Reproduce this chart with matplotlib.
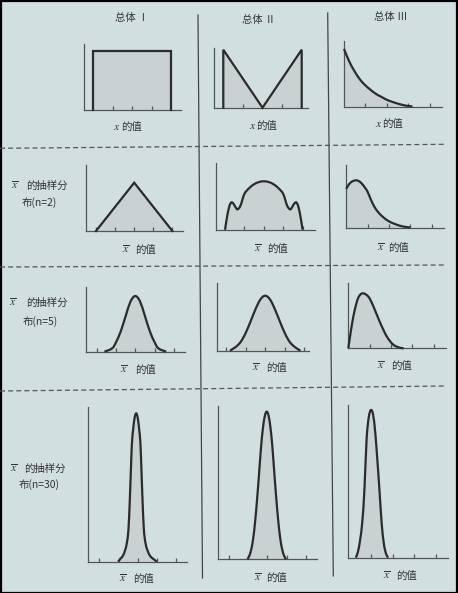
import numpy as np
import matplotlib
matplotlib.use("Agg")
import matplotlib.pyplot as plt
from matplotlib.path import Path
from matplotlib.patches import PathPatch, Rectangle
from matplotlib.lines import Line2D

plt.rcParams['font.family'] = ['Noto Sans CJK SC', 'DejaVu Sans']
plt.rcParams['mathtext.fontset'] = 'stix'

W, H = 458, 593
BG = '#d2dfe1'
FILL = '#c9d1d2'
INK = '#2b2b2b'
AXC = '#555555'
TXT = '#333333'

headers = ['总体 Ⅰ', '总体 Ⅱ', '总体 Ⅲ']
row_lines = ['布(n=2)', '布(n=5)', '布(n=30)']

# shapes: x in tick units, y relative to the peak
uni_x = [0, 0, 4, 4]
uni_y = [0, 1, 1, 0]
vee_x = [0, 0, 2, 4, 4]
vee_y = [0, 1, 0, 1, 0]
exp_x = [0, 0.25, 0.5, 0.75, 1.0, 1.25, 1.5, 1.75, 2.0, 2.25, 2.5, 2.75, 3.0, 3.2]
exp_y = [1.0, 0.78, 0.61, 0.47, 0.37, 0.29, 0.22, 0.17, 0.12, 0.085, 0.055, 0.03, 0.012, 0.005]

tri_x = [0, 2, 4]
tri_y = [0, 1, 0]
tri3_x = [0, 0.1, 0.2, 0.28, 0.35, 0.45, 0.55, 0.65, 0.8, 1.0, 1.25, 1.5, 1.75, 2.0,
          2.25, 2.5, 2.75, 3.0, 3.2, 3.35, 3.45, 3.55, 3.65, 3.72, 3.8, 3.9, 4.0]
tri3_y = [0, 0.25, 0.45, 0.54, 0.566, 0.53, 0.46, 0.42, 0.5, 0.74, 0.86, 0.94, 0.985, 1.0,
          0.985, 0.94, 0.86, 0.74, 0.5, 0.42, 0.46, 0.53, 0.566, 0.54, 0.45, 0.25, 0]
gam2_x = [0, 0.1, 0.25, 0.45, 0.6, 0.75, 0.9, 1.0, 1.15, 1.3, 1.5, 1.75, 2.0, 2.25, 2.5, 2.75, 3.0]
gam2_y = [0.82, 0.9, 0.97, 1.0, 0.98, 0.92, 0.83, 0.76, 0.6, 0.46, 0.33, 0.22, 0.14, 0.09, 0.05, 0.025, 0.01]

n5a_x = [0.4, 0.8, 1.0, 1.25, 1.5, 1.75, 2.0, 2.25, 2.5, 2.75, 3.0, 3.2, 3.6]
n5a_y = [0, 0.06, 0.17, 0.37, 0.64, 0.9, 1.0, 0.9, 0.64, 0.37, 0.17, 0.06, 0]
n5b_x = [0.2, 0.5, 0.75, 1.0, 1.25, 1.5, 1.75, 2.0, 2.25, 2.5, 2.75, 3.0, 3.25, 3.5, 3.8]
n5b_y = [0, 0.07, 0.16, 0.32, 0.53, 0.75, 0.93, 1.0, 0.93, 0.75, 0.53, 0.32, 0.16, 0.07, 0]
n5c_x = [0, 0.16, 0.31, 0.47, 0.67, 0.94, 1.17, 1.49, 1.8, 2.1, 2.4, 2.6]
n5c_y = [0, 0.41, 0.71, 0.92, 1.0, 0.94, 0.77, 0.47, 0.22, 0.07, 0.013, 0]

n30a_x = [0.98, 1.10, 1.23, 1.35, 1.44, 1.52, 1.59, 1.64, 1.70, 1.77, 1.84, 1.92,
          2.00, 2.07, 2.14, 2.20, 2.25, 2.32, 2.40, 2.50, 2.64, 2.80, 3.0]
n30a_y = [0, 0.02, 0.04, 0.08, 0.13, 0.22, 0.42, 0.6, 0.8, 0.9, 0.97, 1.0,
          0.97, 0.9, 0.8, 0.6, 0.42, 0.22, 0.13, 0.08, 0.04, 0.02, 0]
n30b_x = [0.97, 1.07, 1.17, 1.27, 1.37, 1.47, 1.57, 1.67, 1.77, 1.87, 1.97,
          2.07, 2.17, 2.27, 2.37, 2.47, 2.57, 2.67, 2.77, 2.87, 2.97]
n30b_y = [0, 0.024, 0.068, 0.142, 0.257, 0.405, 0.574, 0.75, 0.885, 0.97, 1.0,
          0.97, 0.885, 0.75, 0.574, 0.405, 0.257, 0.142, 0.068, 0.024, 0]
n30c_x = [0.3, 0.4, 0.5, 0.6, 0.7, 0.8, 0.9, 1.0, 1.1, 1.2, 1.3, 1.4, 1.5, 1.6, 1.7, 1.8]
n30c_y = [0, 0.04, 0.12, 0.24, 0.46, 0.8, 0.95, 1.0, 0.97, 0.85, 0.66, 0.45, 0.23, 0.095, 0.027, 0]

# panel boxes in pixels: left, top, right, bottom; x0 pixel, px per unit, px for peak
panels = [
    dict(box=(84, 44, 181, 110), x0=93.3, unit=19.4, peak=59, ticks=[1, 2, 3], xs=uni_x, ys=uni_y, smooth=False),
    dict(box=(214, 48, 308, 107.7), x0=223.3, unit=19.6, peak=58, ticks=[1, 3], xs=vee_x, ys=vee_y, smooth=False),
    dict(box=(344, 41, 442, 106.7), x0=344, unit=21.4, peak=57.7, ticks=[1, 2, 3, 4], xs=exp_x, ys=exp_y, smooth=True),
    dict(box=(86, 165, 183, 231), x0=96, unit=19.1, peak=48.3, ticks=[0, 1, 2, 3, 4], xs=tri_x, ys=tri_y, smooth=False),
    dict(box=(216, 163, 315, 229.7), x0=225, unit=19.4, peak=48.4, ticks=[0, 1, 2, 3, 4], xs=tri3_x, ys=tri3_y, smooth=True),
    dict(box=(346.3, 164.7, 444, 228), x0=346.3, unit=21.3, peak=47.7, ticks=[1, 2, 3, 4], xs=gam2_x, ys=gam2_y, smooth=True),
    dict(box=(86, 286.7, 185, 351.7), x0=96.7, unit=19.3, peak=55.7, ticks=[0, 1, 2, 3, 4], xs=n5a_x, ys=n5a_y, smooth=True),
    dict(box=(216.7, 283, 309, 350.7), x0=226, unit=19.6, peak=55, ticks=[0, 1, 2, 3, 4], xs=n5b_x, ys=n5b_y, smooth=True),
    dict(box=(348.3, 282.7, 446, 348.3), x0=348.3, unit=21.3, peak=55, ticks=[1, 2, 3, 4], xs=n5c_x, ys=n5c_y, smooth=True),
    dict(box=(88.3, 407.3, 186.7, 561.7), x0=99.3, unit=19.2, peak=148.4, ticks=[0, 1, 2, 3, 4], xs=n30a_x, ys=n30a_y, smooth=True),
    dict(box=(218.3, 406, 316.7, 559.3), x0=228.7, unit=19.3, peak=147.7, ticks=[0, 1, 2, 3, 4], xs=n30b_x, ys=n30b_y, smooth=True),
    dict(box=(348.3, 405, 448, 557.7), x0=349.3, unit=21.6, peak=147.7, ticks=[1, 2, 3, 4], xs=n30c_x, ys=n30c_y, smooth=True),
]


def smooth_path(xs, ys, close):
    pts = np.column_stack([xs, ys]).astype(float)
    n = len(pts)
    verts = [pts[0]]
    codes = [Path.MOVETO]
    for i in range(n - 1):
        p0 = pts[i - 1] if i > 0 else pts[i]
        p1, p2 = pts[i], pts[i + 1]
        p3 = pts[i + 2] if i + 2 < n else pts[i + 1]
        verts += [p1 + (p2 - p0) / 6, p2 - (p3 - p1) / 6, p2]
        codes += [Path.CURVE4] * 3
    if close:
        verts += [(xs[-1], 0), (xs[0], 0), (xs[0], 0)]
        codes += [Path.LINETO, Path.LINETO, Path.CLOSEPOLY]
    return Path(verts, codes)


fig = plt.figure(figsize=(W / 100, H / 100), dpi=100)
fig.patch.set_facecolor(BG)

for p in panels:
    l, t, r, b = p['box']
    ax = fig.add_axes([l / W, 1 - b / H, (r - l) / W, (b - t) / H])
    ax.patch.set_visible(False)
    ax.set_xlim((l - p['x0']) / p['unit'], (r - p['x0']) / p['unit'])
    ax.set_ylim(0, (b - t) / p['peak'])
    for s in ['top', 'right']:
        ax.spines[s].set_visible(False)
    for s in ['left', 'bottom']:
        ax.spines[s].set_color(AXC)
        ax.spines[s].set_linewidth(0.9)
    ax.set_yticks([])
    ax.set_xticks(p['ticks'])
    ax.tick_params(axis='x', direction='in', length=3, width=0.9, colors=AXC, labelbottom=False)
    if p['smooth']:
        ax.add_patch(PathPatch(smooth_path(p['xs'], p['ys'], True), facecolor=FILL, edgecolor='none', zorder=1))
        ax.add_patch(PathPatch(smooth_path(p['xs'], p['ys'], False), facecolor='none', edgecolor=INK,
                               lw=1.6, clip_on=False, zorder=3, joinstyle='round'))
    else:
        ax.fill(p['xs'], p['ys'], color=FILL, lw=0, zorder=1)
        ax.plot(p['xs'], p['ys'], color=INK, lw=1.6, clip_on=False, zorder=3, solid_joinstyle='miter')


def put(x, y, s, size=7.5, **kw):
    # y is the visual centre of CJK glyphs; convert to baseline
    fig.text(x / W, 1 - (y + 4) / H, s, ha='center', va='baseline', fontsize=size, color=TXT, **kw)


# column headers
for (cx, cy), s in zip([(132, 17), (259, 19), (391, 16)], headers):
    put(cx, cy, s, size=7.5)

# x labels, first row
for xx, xc, yy in [(117, 131, 126), (252.5, 266.5, 125), (378.5, 392.5, 123)]:
    put(xx, yy, '$x$', size=8.5)
    put(xc, yy, '的值')

# x-bar labels, other rows
xbar_pos = [
    [(125.5, 145, 249), (257.5, 277, 248), (380.5, 398.5, 247)],
    [(124, 145.5, 369), (255.5, 276, 367), (380.5, 401, 365)],
    [(123, 143.5, 578), (257.5, 276.5, 577), (386.5, 406, 575)],
]
for row in xbar_pos:
    for xx, xc, yy in row:
        put(xx, yy, r'$\overline{x}$', size=8.5)
        put(xc, yy, '的值')

# row labels
for (bx, cx, y1, x2, y2), s in zip([(14.5, 46.5, 185, 39, 202), (12.5, 46.5, 302, 40.5, 321),
                                    (13.5, 45, 468, 39, 484)], row_lines):
    put(bx, y1, r'$\overline{x}$', size=8.5)
    put(cx, y1, '的抽样分')
    put(x2, y2, s)

# dividers
fig.add_artist(Line2D([198 / W, 202.5 / W], [1 - 15 / H, 1 - 578 / H], color='#444444', lw=0.9))
fig.add_artist(Line2D([327.7 / W, 333.3 / W], [1 - 13 / H, 1 - 576 / H], color='#444444', lw=0.9))
for y0, y1 in [(148.3, 144.3), (267, 265), (391, 386)]:
    fig.add_artist(Line2D([0, 445 / W], [1 - y0 / H, 1 - y1 / H], color='#555555', lw=0.9,
                          ls=(0, (4, 2.5))))

fig.add_artist(Rectangle((0.5 / W, 0.5 / H), 1 - 1.5 / W, 1 - 1.5 / H, transform=fig.transFigure,
                         fill=False, edgecolor='black', lw=1.6))

fig.savefig('out.png', dpi=100, facecolor=BG)
